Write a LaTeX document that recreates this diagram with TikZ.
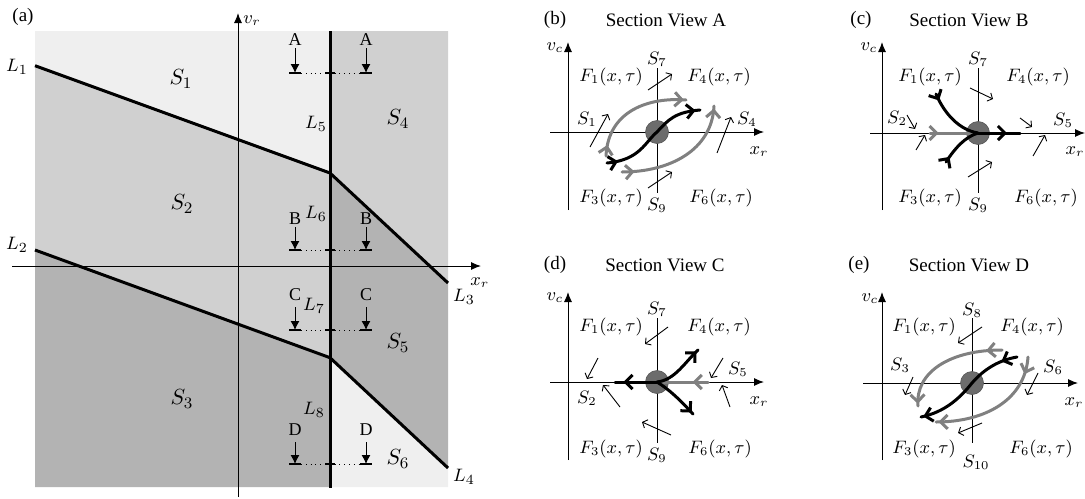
\documentclass[tikz,border=0pt]{standalone}
\usepackage{fontspec}
\setmainfont{Liberation Serif}
\usepackage{xcolor}
\usepackage{tikz}
\usetikzlibrary{arrows.meta, decorations.markings}
\definecolor{zonelight}{RGB}{239, 239, 239}
\definecolor{zonemid}{RGB}{208, 208, 208}
\definecolor{zonedark}{RGB}{179, 179, 179}
\definecolor{trackgray}{RGB}{128, 128, 128}
\definecolor{hubgray}{RGB}{108, 108, 108}

\tikzset{
    axis/.style={line width=0.5pt, -{Latex[length=5pt,width=4pt]}},
    guide/.style={line width=0.5pt},
    bound/.style={line width=1.5pt},
    cutarrow/.style={line width=0.5pt, -{Latex[length=4.5pt,width=4.5pt]}},
    cutbar/.style={line width=0.6pt},
    hint/.style={line width=0.45pt, -{Straight Barb[length=2pt,width=4.5pt]}},
    traj/.style={line width=1.5pt, line cap=round},
    trajk/.style={traj, black},
    trajg/.style={traj, trackgray},
    tipat/.style={postaction={decorate, decoration={markings,
        mark=at position #1 with {\arrow{Straight Barb[length=3.5pt,width=7pt]}}}}},
    hub/.style={circle, fill=hubgray, draw=hubgray!80!black, line width=0.3pt,
        minimum size=11.5pt, inner sep=0pt},
    lab/.style={font=\fontsize{9}{11}\selectfont, inner sep=1pt},
    tag/.style={font=\fontsize{9.5}{11}\selectfont, inner sep=1pt},
    zonelab/.style={font=\fontsize{11}{13}\selectfont, inner sep=1pt},
    linelab/.style={font=\fontsize{9.5}{11}\selectfont, inner sep=1pt},
}

\begin{document}
\begin{tikzpicture}[x=0.5pt, y=-0.5pt]
    \useasboundingbox (0,0) rectangle (1085,498);

    % (a) switching zones
    \fill[zonelight] (35,31) -- (330,31) -- (330,173) -- (35,65.7) -- cycle;
    \fill[zonemid] (35,65.7) -- (330,173) -- (330,357.7) -- (35,250) -- cycle;
    \fill[zonedark] (35,250) -- (330,357.7) -- (330,487) -- (35,487) -- cycle;
    \fill[zonemid] (330,31) -- (448,31) -- (448,283) -- (330,173) -- cycle;
    \fill[zonedark] (330,173) -- (448,283) -- (448,468) -- (330,357.7) -- cycle;
    \fill[zonelight] (330,357.7) -- (448,468) -- (448,487) -- (330,487) -- cycle;

    % (a) axes
    \node[tag] (a-tag) at (23,17) {(a)};
    \draw[axis] (238,497) -- (238,13);
    \node[lab] (a-vr) at (252,21) {$v_r$};
    \draw[axis] (12,266) -- (481,266);
    \node[lab, anchor=west] (a-xr) at (468,283) {$x_r$};

    % (a) switching lines
    \draw[bound] (35,65.7) -- (330,173) -- (448,283);
    \draw[bound] (35,250) -- (330,357.7) -- (448,468);
    \draw[bound] (330,31) -- (330,488);
    \node[linelab] (a-L1) at (17,67) {$L_1$};
    \node[linelab] (a-L2) at (17,245) {$L_2$};
    \node[linelab] (a-L3) at (464,297) {$L_3$};
    \node[linelab] (a-L4) at (464,477) {$L_4$};
    \node[linelab] (a-L5) at (316,124) {$L_5$};
    \node[linelab] (a-L6) at (316,214) {$L_6$};
    \node[linelab] (a-L7) at (314,306) {$L_7$};
    \node[linelab] (a-L8) at (314,410) {$L_8$};
    \node[zonelab] (a-S1) at (181,79) {$S_1$};
    \node[zonelab] (a-S2) at (182,204) {$S_2$};
    \node[zonelab] (a-S3) at (182,399) {$S_3$};
    \node[zonelab] (a-S4) at (398,119) {$S_4$};
    \node[zonelab] (a-S5) at (398,343) {$S_5$};
    \node[zonelab] (a-S6) at (398,459) {$S_6$};

    % (a) section cuts
    \node[lab] (a-A1) at (295,40) {A};
    \node[lab] (a-A2) at (366,40) {A};
    \draw[cutarrow] (295,48) -- (295,73);
    \draw[cutarrow] (366,48) -- (366,73);
    \draw[cutbar] (289,73) -- (301,73) (325,73) -- (335,73) (360,73) -- (372,73);
    \draw[dotted] (301,73) -- (360,73);
    \node[lab] (a-B1) at (295,219) {B};
    \node[lab] (a-B2) at (366,219) {B};
    \draw[cutarrow] (295,227) -- (295,250);
    \draw[cutarrow] (366,227) -- (366,250);
    \draw[cutbar] (289,250) -- (301,250) (325,250) -- (335,250) (360,250) -- (372,250);
    \draw[dotted] (301,250) -- (360,250);
    \node[lab] (a-C1) at (295,295) {C};
    \node[lab] (a-C2) at (366,295) {C};
    \draw[cutarrow] (295,307) -- (295,330);
    \draw[cutarrow] (366,307) -- (366,330);
    \draw[cutbar] (289,330) -- (301,330) (325,330) -- (335,330) (360,330) -- (372,330);
    \draw[dotted] (301,330) -- (360,330);
    \node[lab] (a-D1) at (295,430) {D};
    \node[lab] (a-D2) at (366,430) {D};
    \draw[cutarrow] (295,442) -- (295,464);
    \draw[cutarrow] (366,442) -- (366,464);
    \draw[cutbar] (289,464) -- (301,464) (325,464) -- (335,464) (360,464) -- (372,464);
    \draw[dotted] (301,464) -- (360,464);

    % (b) Section View A
    \node[tag] (b-tag) at (555,20) {(b)};
    \node[tag] (b-title) at (666,20) {Section View A};
    \draw[axis] (568,210) -- (568,42);
    \draw[axis] (550,132) -- (764,132);
    \draw[guide] (657,68) -- (657,193);
    \node[lab] (b-vc) at (555,48) {$v_c$};
    \node[lab] (b-xr) at (759,152) {$x_r$};
    \node[lab] (b-S7) at (657,59) {$S_7$};
    \node[lab] (b-S9) at (657,205) {$S_9$};
    \node[lab] (b-F1) at (611,77) {$F_1(x,\tau)$};
    \node[lab] (b-F4) at (719,77) {$F_4(x,\tau)$};
    \node[lab] (b-F3) at (611,198) {$F_3(x,\tau)$};
    \node[lab] (b-F6) at (721,198) {$F_6(x,\tau)$};
    \node[lab] (b-S1) at (587,119) {$S_1$};
    \node[lab] (b-S4) at (747,119) {$S_4$};
    \draw[hint] (590,147) -- (608,114);
    \draw[hint] (717,153) -- (731,117);
    \draw[hint] (648,90) -- (672,74);
    \draw[hint] (648,188) -- (672,172);
    \node[hub] (b-hub) at (657,132) {};
    \draw[trajg, tipat=0.1, tipat=0.98] (606,156) .. controls (608,110) and (650,97) .. (686,100);
    \draw[trajg, tipat=0.1, tipat=0.98] (622,172) .. controls (670,172) and (712,150) .. (714,106);
    \draw[trajk, tipat=0.1, tipat=0.96] (607,163) .. controls (640,160) and (645,142) .. (b-hub.center)
        .. controls (668,120) and (675,112) .. (700,110);

    % (c) Section View B
    \node[tag] (c-tag) at (861,20) {(c)};
    \node[tag] (c-title) at (969,20) {Section View B};
    \draw[axis] (882,210) -- (882,42);
    \draw[axis] (870,133) -- (1085,133);
    \draw[guide] (978,68) -- (978,193);
    \node[lab] (c-vc) at (869,48) {$v_c$};
    \node[lab] (c-xr) at (1075,152) {$x_r$};
    \node[lab] (c-S7) at (978,59) {$S_7$};
    \node[lab] (c-S9) at (978,205) {$S_9$};
    \node[lab] (c-F1) at (930,77) {$F_1(x,\tau)$};
    \node[lab] (c-F4) at (1038,77) {$F_4(x,\tau)$};
    \node[lab] (c-F3) at (930,198) {$F_3(x,\tau)$};
    \node[lab] (c-F6) at (1046,198) {$F_6(x,\tau)$};
    \node[lab] (c-S2) at (897,118) {$S_2$};
    \node[lab] (c-S5) at (1063,120) {$S_5$};
    \draw[hint] (907,115) -- (915,129);
    \draw[hint] (916,150) -- (925,135);
    \draw[hint] (970,88) -- (993,99);
    \draw[hint] (968,177) -- (992,162);
    \draw[hint] (1020,118) -- (1032,127);
    \draw[hint] (1033,156) -- (1045,135);
    \node[hub] (c-hub) at (978,133) {};
    \draw[trajg, tipat=0.18] (930,133) -- (c-hub.center);
    \draw[trajk, tipat=0.69] (c-hub.center) -- (1020,133);
    \draw[trajk, tipat=0.12] (936,94) .. controls (945,115) and (960,130) .. (c-hub.center);
    \draw[trajk, tipat=0.14] (946,162) .. controls (955,148) and (965,137) .. (c-hub.center);

    % (d) Section View C
    \node[tag] (d-tag) at (555,265) {(d)};
    \node[tag] (d-title) at (665,265) {Section View C};
    \draw[axis] (568,460) -- (568,292);
    \draw[axis] (550,382) -- (764,382);
    \draw[guide] (657,318) -- (657,443);
    \node[lab] (d-vc) at (555,298) {$v_c$};
    \node[lab] (d-xr) at (759,402) {$x_r$};
    \node[lab] (d-S7) at (657,309) {$S_7$};
    \node[lab] (d-S9) at (657,455) {$S_9$};
    \node[lab] (d-F1) at (611,327) {$F_1(x,\tau)$};
    \node[lab] (d-F4) at (719,327) {$F_4(x,\tau)$};
    \node[lab] (d-F3) at (611,449) {$F_3(x,\tau)$};
    \node[lab] (d-F6) at (720,449) {$F_6(x,\tau)$};
    \node[lab] (d-S2) at (587,398) {$S_2$};
    \node[lab] (d-S5) at (738,369) {$S_5$};
    \draw[hint] (598,358) -- (587,379);
    \draw[hint] (620,407) -- (603,385);
    \draw[hint] (668,327) -- (645,344);
    \draw[hint] (671,435) -- (642,422);
    \draw[hint] (723,358) -- (711,378);
    \draw[hint] (730,407) -- (722,385);
    \node[hub] (d-hub) at (657,382) {};
    \draw[trajg, tipat=0.3] (708,382) -- (d-hub.center);
    \draw[trajk, tipat=0.8] (d-hub.center) -- (615,382);
    \draw[trajk, tipat=0.96] (d-hub.center) .. controls (675,380) and (685,362) .. (698,350);
    \draw[trajk, tipat=0.96] (d-hub.center) .. controls (670,390) and (680,400) .. (693,414);

    % (e) Section View D
    \node[tag] (e-tag) at (859,265) {(e)};
    \node[tag] (e-title) at (969,265) {Section View D};
    \draw[axis] (882,460) -- (882,292);
    \draw[axis] (863,383) -- (1078,383);
    \draw[guide] (972,318) -- (972,443);
    \node[lab] (e-vc) at (870,299) {$v_c$};
    \node[lab] (e-xr) at (1074,403) {$x_r$};
    \node[lab] (e-S8) at (972,310) {$S_8$};
    \node[lab] (e-S10) at (976,462) {$S_{10}$};
    \node[lab] (e-F1) at (924,327) {$F_1(x,\tau)$};
    \node[lab] (e-F4) at (1032,327) {$F_4(x,\tau)$};
    \node[lab] (e-F3) at (924,449) {$F_3(x,\tau)$};
    \node[lab] (e-F6) at (1041,449) {$F_6(x,\tau)$};
    \node[lab] (e-S3) at (900,365) {$S_3$};
    \node[lab] (e-S6) at (1053,367) {$S_6$};
    \draw[hint] (982,327) -- (958,343);
    \draw[hint] (982,423) -- (958,433);
    \draw[hint] (913,377) -- (905,395);
    \draw[hint] (1038,373) -- (1027,395);
    \node[hub] (e-hub) at (972,383) {};
    \draw[trajg, tipat=0.14, tipat=0.98] (1002,350) .. controls (950,350) and (915,372) .. (918,406);
    \draw[trajg, tipat=0.14, tipat=0.98] (1028,357) .. controls (1025,400) and (985,422) .. (936,422);
    \draw[trajk, tipat=0.14, tipat=0.98] (1017,357) .. controls (1000,360) and (985,368) .. (e-hub.center)
        .. controls (960,398) and (945,412) .. (921,417);
\end{tikzpicture}
\end{document}
